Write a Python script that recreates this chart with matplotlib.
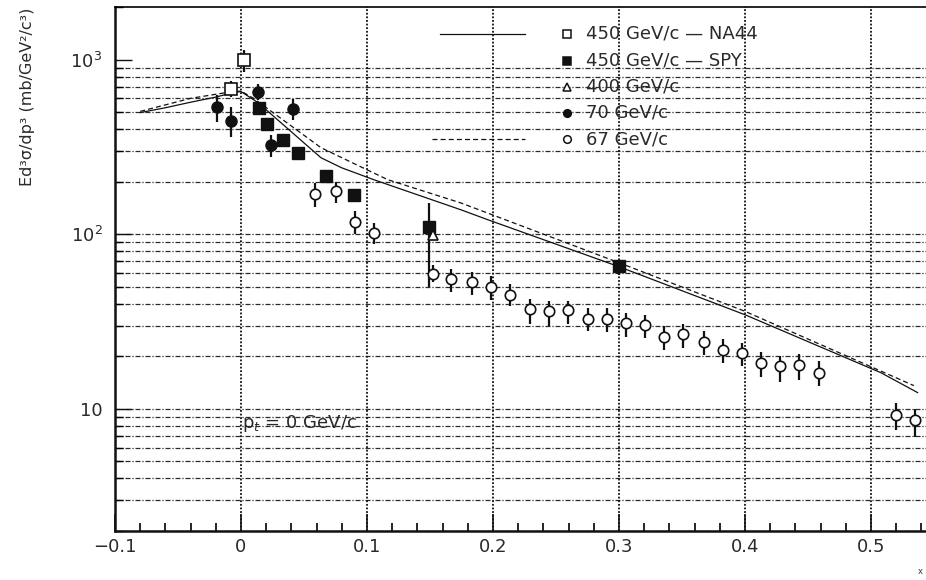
import numpy as np
import matplotlib
matplotlib.use("Agg")
import matplotlib.pyplot as plt
from matplotlib.lines import Line2D

plt.rcParams['font.family'] = ['DejaVu Sans']

# --- model curves: invariant cross section vs x_F at p_t = 0 ---
x_solid = [-0.08, -0.06, -0.04, -0.02, -0.005, 0.0, 0.0135, 0.03, 0.0635, 0.08,
           0.1056, 0.1746, 0.196, 0.30, 0.40, 0.508, 0.537]
y_solid = [497, 530, 570, 610, 650, 656, 567, 446, 274, 240,
           205, 138, 121, 65.2, 34.6, 16.1, 12.4]

x_dashed = [-0.08, -0.04, -0.01, 0.0, 0.01, 0.03, 0.0635, 0.0867, 0.1167, 0.1746,
            0.30, 0.40, 0.534]
y_dashed = [505, 600, 650, 660, 600, 470, 313, 260, 205, 151,
            68.7, 36.2, 13.6]

# --- 450 GeV/c, NA44 (open squares) ---
na44_x = [-0.008, 0.002]
na44_y = [682, 1000]
na44_lo = [610, 850]
na44_hi = [750, 1140]

# --- 450 GeV/c, SPY (filled squares) ---
spy_x = [0.014, 0.021, 0.033, 0.045, 0.0675, 0.090, 0.149, 0.300]
spy_y = [530, 430, 348, 293, 216, 168, 110, 65.4]
spy_lo = [490, 400, 322, 272, 203, 160, 50, 58.6]
spy_hi = [570, 460, 375, 315, 230, 176, 151, 71.4]

# --- 400 GeV/c (open triangles) ---
t400_x = [0.152]
t400_y = [99]
t400_lo = [94]
t400_hi = [104]

# --- 70 GeV/c (filled circles) ---
g70_x = [-0.019, -0.008, 0.0135, 0.024, 0.041]
g70_y = [538, 447, 656, 326, 524]
g70_lo = [441, 362, 590, 278, 453]
g70_hi = [630, 538, 720, 372, 598]

# --- 67 GeV/c (open circles) ---
g67_x = [0.0587, 0.0754, 0.0905, 0.1056, 0.1524, 0.1667, 0.1831, 0.1984, 0.2135,
         0.2291, 0.2442, 0.2598, 0.2752, 0.2902, 0.3056, 0.3206, 0.3360, 0.3510,
         0.3672, 0.3823, 0.3974, 0.4127, 0.4280, 0.4431, 0.4585, 0.5198, 0.5350]
g67_y = [171, 176, 118, 102, 59.5, 55.7, 53.5, 50.1, 45.0,
         37.1, 36.3, 36.8, 32.9, 32.6, 31.0, 30.2, 25.9, 26.8,
         24.3, 21.8, 20.9, 18.4, 17.5, 17.9, 16.1, 9.2, 8.65]
g67_lo = [144, 151, 100, 88, 53, 46.8, 45, 42, 38.6,
          30.6, 29.9, 30.6, 27.9, 27.4, 25.9, 25.5, 21.6, 22.3,
          20.4, 18.4, 17.5, 15.3, 14.2, 14.7, 13.5, 7.6, 6.9]
g67_hi = [197, 200, 136, 116, 67, 63.6, 61, 58, 52,
          42.5, 41.4, 41.7, 37.7, 37.7, 35.5, 34.6, 29.8, 30.7,
          27.9, 25.1, 23.8, 21.3, 20.2, 20.6, 18.7, 10.8, 10.0]

x_ticks = [-0.1, 0.0, 0.1, 0.2, 0.3, 0.4, 0.5]
x_ticklabels = ["\u22120.1", "0", "0.1", "0.2", "0.3", "0.4", "0.5"]
y_ticks = [10, 100, 1000]
y_ticklabels = ["10", "$10^{2}$", "$10^{3}$"]

legend_labels = ["450 GeV/c \u2014 NA44", "450 GeV/c \u2014 SPY", "400 GeV/c",
                 "70 GeV/c", "67 GeV/c"]

W, H = 926, 580
fig = plt.figure(figsize=(W / 100, H / 100), dpi=100)
L, R, T, B = 115, 934, 7, 531
ax = fig.add_axes([L / W, (H - B) / H, (R - L) / W, (B - T) / H])
ax.set_yscale('log')
ax.set_xlim(-0.1, 0.55)
ax.set_ylim(2, 2000)

ink = '#111111'
txt = '#2a2a2a'

# grid: dash-dot horizontals at every decade subdivision, dotted verticals
for dec in [1, 10, 100]:
    for k in range(1, 10):
        v = k * dec
        if 2 <= v <= 1000:
            ax.axhline(v, color='#2a2a2a', lw=0.9, ls=(0, (4, 1.5, 1, 1.5)), zorder=1)
for xv in x_ticks[1:]:
    ax.axvline(xv, color='#111111', lw=1.3, ls=(0, (1, 1)), zorder=1)

# curves
ax.plot(x_solid, y_solid, color=ink, lw=0.9, zorder=3)
ax.plot(x_dashed, y_dashed, color=ink, lw=0.9, ls=(0, (4, 2.5)), zorder=3)


def err(xs, ys, lo, hi):
    ys = np.asarray(ys, float)
    return np.vstack([ys - np.asarray(lo, float), np.asarray(hi, float) - ys])


common = dict(ls='none', ecolor=ink, elinewidth=1.6, capsize=0, zorder=4)
ax.errorbar(g67_x, g67_y, yerr=err(g67_x, g67_y, g67_lo, g67_hi), marker='o', ms=7.5,
            mfc='white', mec=ink, mew=1.2, **common)
ax.errorbar(g70_x, g70_y, yerr=err(g70_x, g70_y, g70_lo, g70_hi), marker='o', ms=8,
            mfc=ink, mec=ink, **common)
ax.errorbar(spy_x, spy_y, yerr=err(spy_x, spy_y, spy_lo, spy_hi), marker='s', ms=8,
            mfc=ink, mec=ink, **common)
ax.errorbar(t400_x, t400_y, yerr=err(t400_x, t400_y, t400_lo, t400_hi), marker='^', ms=7,
            mfc='white', mec=ink, mew=1.2, **common)
ax.errorbar(na44_x, na44_y, yerr=err(na44_x, na44_y, na44_lo, na44_hi), marker='s', ms=8,
            mfc='white', mec=ink, mew=1.2, **common)

# axes styling
ax.set_xticks(x_ticks)
ax.set_xticklabels(x_ticklabels)
ax.set_xticks(np.arange(-0.1, 0.551, 0.02), minor=True)
ax.set_yticks(y_ticks)
ax.set_yticklabels(y_ticklabels)
ax.yaxis.set_minor_formatter(matplotlib.ticker.NullFormatter())
ax.tick_params(axis='x', which='major', direction='in', length=12, width=1.2,
               labelsize=13, pad=5, colors=ink, labelcolor=txt)
ax.tick_params(axis='x', which='minor', direction='in', length=6, width=1.2)
ax.tick_params(axis='y', which='major', direction='in', length=12, width=1.0,
               labelsize=13, pad=9, colors=ink, labelcolor=txt)
ax.tick_params(axis='y', which='minor', direction='in', length=6, width=1.0)
for s in ['left', 'bottom']:
    ax.spines[s].set_linewidth(1.8)
    ax.spines[s].set_color(ink)
ax.spines['top'].set_linewidth(1.2)
ax.spines['right'].set_visible(False)


def fx(px):
    return (px - L) / (R - L)


def fy(py):
    return (B - py) / (B - T)


# key
tr = ax.transAxes
ax.add_line(Line2D([fx(440), fx(525)], [fy(34), fy(34)], transform=tr, color=ink, lw=0.9))
ax.add_line(Line2D([fx(432), fx(525)], [fy(139), fy(139)], transform=tr, color=ink,
                   lw=0.9, ls=(0, (4, 2.5))))
rows = [34, 60.5, 86.5, 112.5, 139]
key_markers = [('s', 'white', 6), ('s', ink, 6), ('^', 'white', 5.5), ('o', ink, 5.5),
               ('o', 'white', 5.5)]
for py, (m, fc, ms), lab in zip(rows, key_markers, legend_labels):
    ax.plot([fx(567)], [fy(py)], marker=m, ms=ms, mfc=fc, mec=ink, mew=1.1,
            transform=tr, zorder=5, clip_on=False)
    ax.text(fx(586), fy(py), lab, transform=tr, fontsize=13, va='center', ha='left',
            color=txt, zorder=5)

ax.text(0.001, 8.3, "p$_t$ = 0 GeV/c", fontsize=13, va='center', ha='left',
        color=txt, zorder=5)

fig.text(28 / W, 1 - 8 / H, "Ed\u00b3\u03c3/dp\u00b3 (mb/GeV\u00b2/c\u00b3)", rotation=90,
         va='top', ha='center', fontsize=11.5, color=txt)
fig.text(918 / W, 1 - 572 / H, "x", fontsize=6, va='center', ha='left', color='#333333')

fig.savefig("out.png", dpi=100)
